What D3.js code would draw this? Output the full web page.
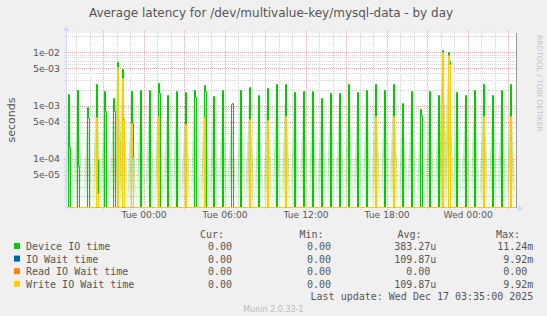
<!DOCTYPE html>
<html>
<head>
<meta charset="utf-8">
<script src="https://cdn.jsdelivr.net/npm/d3@7"></script>
<style>
body { margin: 0; background: #f0f0f0; }
svg text { font-family: "DejaVu Sans", sans-serif; }
svg text.mono { font-family: "DejaVu Sans Mono", monospace; white-space: pre; }
</style>
</head>
<body>
<svg id="chart" width="547" height="316"></svg>
<script>
// time window of the munin "by day" graph
const startTime = "2025-12-15 18:15";
const endTime = "2025-12-17 03:35";

// Device IO time spikes (seconds): time, peak, value of the following step (0 = none)
const deviceTimes = [
  "2025-12-15 18:25", "2025-12-15 19:05", "2025-12-15 19:50", "2025-12-15 20:30", "2025-12-15 21:05",
  "2025-12-15 21:45", "2025-12-15 22:00", "2025-12-15 22:25", "2025-12-15 23:05", "2025-12-15 23:45",
  "2025-12-16 00:25", "2025-12-16 01:05", "2025-12-16 01:45", "2025-12-16 02:25", "2025-12-16 03:05",
  "2025-12-16 03:45", "2025-12-16 04:30", "2025-12-16 05:10", "2025-12-16 05:50", "2025-12-16 06:30",
  "2025-12-16 07:10", "2025-12-16 07:50", "2025-12-16 08:30", "2025-12-16 09:10", "2025-12-16 09:50",
  "2025-12-16 10:30", "2025-12-16 11:10", "2025-12-16 11:50", "2025-12-16 12:30", "2025-12-16 13:10",
  "2025-12-16 13:50", "2025-12-16 14:30", "2025-12-16 15:10", "2025-12-16 15:50", "2025-12-16 16:30",
  "2025-12-16 17:10", "2025-12-16 17:50", "2025-12-16 18:30", "2025-12-16 19:10", "2025-12-16 19:50",
  "2025-12-16 20:30", "2025-12-16 21:10", "2025-12-16 21:50", "2025-12-16 22:05", "2025-12-16 22:35",
  "2025-12-16 23:10", "2025-12-16 23:50", "2025-12-17 00:30", "2025-12-17 01:10", "2025-12-17 01:50",
  "2025-12-17 02:30", "2025-12-17 03:10"
];
const devicePeak = [
  1.65e-3, 1.96e-3, 9.3e-4, 2.54e-3, 1.88e-3,
  1.37e-3, 6.5e-3, 4.9e-3, 1.88e-3, 1.96e-3,
  1.96e-3, 2.6e-3, 1.58e-3, 1.88e-3, 1.82e-3,
  1.96e-3, 2.44e-3, 1.53e-3, 1.96e-3, 1.07e-3,
  1.96e-3, 2.2e-3, 1.58e-3, 2.14e-3, 2.54e-3,
  2.54e-3, 1.82e-3, 1.88e-3, 1.88e-3, 1.37e-3,
  1.7e-3, 1.7e-3, 2.54e-3, 1.82e-3, 1.96e-3,
  2.54e-3, 1.96e-3, 2.54e-3, 1.1e-3, 1.88e-3,
  8.6e-4, 1.88e-3, 1.58e-3, 1.124e-2, 1.0e-2,
  1.82e-3, 1.58e-3, 1.96e-3, 2.54e-3, 1.58e-3,
  1.96e-3, 2.54e-3
];
const deviceStep = [
  1.65e-4, 7.4e-5, 5.8e-4, 9.5e-5, 7.9e-4,
  7.9e-4, 0, 5.5e-4, 4.8e-4, 0,
  0, 1.7e-3, 0, 0, 0,
  1.47e-3, 1.9e-3, 0, 0, 1.1e-3,
  0, 0, 0, 0, 0,
  0, 0, 0, 0, 0,
  0, 0, 0, 0, 0,
  0, 0, 0, 0, 0,
  6.7e-4, 0, 0, 0, 7.0e-3,
  0, 0, 0, 0, 0,
  0, 0
];

// IO Wait time and Write IO Wait time (identical), Read IO Wait time stays 0
const waitTimes = [
  "2025-12-15 20:30", "2025-12-15 22:00", "2025-12-15 22:25", "2025-12-15 23:05", "2025-12-16 01:05",
  "2025-12-16 03:05", "2025-12-16 04:30", "2025-12-16 07:50", "2025-12-16 09:10", "2025-12-16 10:30",
  "2025-12-16 17:10", "2025-12-16 18:30", "2025-12-16 22:05", "2025-12-16 22:35", "2025-12-17 01:10",
  "2025-12-17 03:10"
];
const waitPeak = [
  6.2e-4, 5.4e-3, 3.25e-3, 4.8e-4, 6.4e-4,
  4.5e-4, 6.0e-4, 5.6e-4, 5.4e-4, 6.4e-4,
  6.4e-4, 6.4e-4, 9.92e-3, 9.0e-3, 6.4e-4,
  6.4e-4
];
const waitStep = [
  2.3e-5, 0, 5.5e-4, 1.1e-4, 0,
  0, 0, 0, 0, 0,
  0, 0, 0, 6.0e-3, 0,
  0
];

const seriesNames = ["Device IO time", "IO Wait time", "Read IO Wait time", "Write IO Wait time"];
const seriesColors = ["#00cc00", "#0066b3", "#ff8000", "#ffcc00"];
const curValues = ["0.00", "0.00", "0.00", "0.00"];
const minValues = ["0.00", "0.00", "0.00", "0.00"];
const avgValues = ["383.27u", "109.87u", "0.00", "109.87u"];
const maxValues = ["11.24m", "9.92m", "0.00", "9.92m"];

const yTickValues = [5e-5, 1e-4, 5e-4, 1e-3, 5e-3, 1e-2];
const yTickLabels = ["5e-05", "1e-04", "5e-04", "1e-03", "5e-03", "1e-02"];
const xLabelTimes = ["2025-12-16 00:00", "2025-12-16 06:00", "2025-12-16 12:00", "2025-12-16 18:00", "2025-12-17 00:00"];

const parse = d3.timeParse("%Y-%m-%d %H:%M");
const L = 66, R = 516, T = 33, B = 208;

const svg = d3.select("#chart");
svg.append("rect").attr("width", 547).attr("height", 316).attr("fill", "#f0f0f0");
svg.append("rect").attr("x", L).attr("y", T).attr("width", R - L).attr("height", B - T).attr("fill", "#ffffff");

const x = d3.scaleTime().domain([parse(startTime), parse(endTime)]).range([L, R]);
const y = d3.scaleLog().domain([1.2e-5, 0.023]).range([B, T]).clamp(true);

// horizontal grid, one line per 1..9 x decade
let hLines = [];
for (let d = -5; d <= -2; d++) {
  for (let m = 1; m <= 9; m++) {
    let v = m * Math.pow(10, d);
    if (v >= 1.2e-5 && v <= 0.023) hLines.push({v: v, major: (m == 1 || m == 5)});
  }
}
let grid = svg.append("g");
grid.selectAll(".hg").data(hLines).join("line")
  .attr("x1", L - 2).attr("x2", R + 2)
  .attr("y1", d => Math.round(y(d.v)) + 0.5).attr("y2", d => Math.round(y(d.v)) + 0.5)
  .attr("stroke", d => d.major ? "#f2a8a8" : "#d4d4d4")
  .attr("stroke-dasharray", "1,1");

// vertical grid, every hour, red every 3 hours
let hours = d3.timeHour.every(1).range(parse(startTime), parse(endTime));
grid.selectAll(".vg").data(hours).join("line")
  .attr("x1", d => Math.round(x(d)) + 0.5).attr("x2", d => Math.round(x(d)) + 0.5)
  .attr("y1", T - 2).attr("y2", B + 2)
  .attr("stroke", d => d.getHours() % 3 == 0 ? "#f2a8a8" : "#d4d4d4")
  .attr("stroke-dasharray", "1,1");

// y labels
svg.append("g").selectAll("text").data(yTickValues).join("text")
  .attr("x", 60).attr("y", d => y(d) + 3.5)
  .attr("text-anchor", "end").attr("font-size", "9.4px").attr("fill", "#555")
  .text((d, i) => yTickLabels[i]);

// x labels through the axis generator
let xAxis = d3.axisBottom(x)
  .tickValues(xLabelTimes.map(parse))
  .tickFormat(d3.timeFormat("%a %H:%M"))
  .tickSize(0).tickPadding(0);
let gx = svg.append("g").attr("transform", "translate(0," + (B + 3) + ")").call(xAxis);
gx.select(".domain").remove();
gx.selectAll("text").attr("font-family", "DejaVu Sans").attr("font-size", "9.2px").attr("fill", "#555").attr("dy", "0.71em");

// build step series from the spike lists; k = pixel step after the spike start
function buildSeries(times, peaks, steps) {
  let pts = [{t: parse(startTime), k: 0, v: 0}];
  times.forEach((s, i) => {
    let t = parse(s);
    pts.push({t: t, k: 0, v: peaks[i]});
    if (steps[i] > 0) {
      pts.push({t: t, k: 1, v: steps[i]});
      pts.push({t: t, k: 2, v: 0});
    } else {
      pts.push({t: t, k: 1, v: 0});
    }
  });
  pts.push({t: parse(endTime), k: 0, v: 0});
  return pts;
}
let device = buildSeries(deviceTimes, devicePeak, deviceStep);
let wait = buildSeries(waitTimes, waitPeak, waitStep);
let read = [{t: parse(startTime), k: 0, v: 0}, {t: parse(endTime), k: 0, v: 0}];
let allSeries = [device, wait, read, wait];

// faint faded wedges beside each spike
let defs = svg.append("defs");
seriesColors.forEach((c, i) => {
  let g = defs.append("linearGradient").attr("id", "fade" + i).attr("x1", 0).attr("y1", 0).attr("x2", 0).attr("y2", 1);
  g.append("stop").attr("offset", "0%").attr("stop-color", c).attr("stop-opacity", 0.2);
  g.append("stop").attr("offset", "55%").attr("stop-color", c).attr("stop-opacity", 0.28);
  g.append("stop").attr("offset", "100%").attr("stop-color", c).attr("stop-opacity", 0.0);
});
function wedges(times, peaks, idx) {
  svg.append("g").selectAll("path").data(times).join("path")
    .attr("d", (s, i) => {
      let px = Math.round(x(parse(s))), py = y(peaks[i]);
      return "M" + (px - 4) + "," + B + "L" + px + "," + (py + 10) + "L" + (px + 1) + "," + (py + 10) + "L" + (px + 6) + "," + B + "Z";
    })
    .attr("fill", "url(#fade" + idx + ")");
}
wedges(deviceTimes, devicePeak, 0);
wedges(waitTimes, waitPeak, 3);

// lines snapped to whole pixels so each spike reads as one 2px stroke
let line = d3.line()
  .x(d => Math.round(x(d.t)) + d.k + 0.5)
  .y(d => d.v > 0 ? Math.round(y(d.v)) + 0.5 : B - 0.5)
  .curve(d3.curveStepAfter);

svg.append("g").selectAll("path").data(allSeries).join("path")
  .attr("d", d => line(d))
  .attr("fill", "none")
  .attr("stroke", (d, i) => seriesColors[i])
  .attr("stroke-width", 1);

// axes with arrows
svg.append("line").attr("x1", L + 0.5).attr("x2", L + 0.5).attr("y1", T - 3).attr("y2", B + 2).attr("stroke", "#cfd6f8");
svg.append("line").attr("x1", L - 2).attr("x2", R + 4).attr("y1", B + 0.5).attr("y2", B + 0.5).attr("stroke", "#cfd6f8").lower();
svg.append("path").attr("d", "M" + (L - 2.5) + "," + (T - 2) + "L" + (L + 0.5) + "," + (T - 7) + "L" + (L + 3.5) + "," + (T - 2) + "Z").attr("fill", "#cfd6f8");
svg.append("path").attr("d", "M" + (R + 2) + "," + (B - 2.5) + "L" + (R + 7) + "," + (B + 0.5) + "L" + (R + 2) + "," + (B + 3.5) + "Z").attr("fill", "#cfd6f8");
svg.append("line").attr("x1", R + 0.5).attr("x2", R + 0.5).attr("y1", T).attr("y2", B).attr("stroke", "#999");

// titles
svg.append("text").attr("x", 271).attr("y", 17).attr("text-anchor", "middle")
  .attr("font-size", "12px").attr("fill", "#555")
  .text("Average latency for /dev/multivalue-key/mysql-data - by day");
svg.append("text").attr("transform", "translate(15,120) rotate(-90)").attr("text-anchor", "middle")
  .attr("font-size", "11px").attr("fill", "#555").text("seconds");
svg.append("text").attr("transform", "translate(537,35) rotate(90)").attr("text-anchor", "start")
  .attr("font-size", "7.5px").attr("fill", "#c4c4c4").text("RRDTOOL / TOBI OETIKER");

// legend
let leg = svg.append("g");
let headers = [["Cur:", 224], ["Min:", 323.6], ["Avg:", 421.6], ["Max:", 520]];
leg.selectAll(".hd").data(headers).join("text").attr("class", "mono")
  .attr("x", d => d[1]).attr("y", 237.5).attr("text-anchor", "end")
  .attr("font-size", "10px").attr("fill", "#555").text(d => d[0]);
let colEnds = [238, 337, 436.3, 533.3];
let cols = [curValues, minValues, avgValues, maxValues];
seriesNames.forEach((name, i) => {
  let yy = 250 + i * 12.6;
  leg.append("rect").attr("x", 14).attr("y", yy - 7).attr("width", 6).attr("height", 6).attr("fill", seriesColors[i]);
  leg.append("text").attr("class", "mono").attr("x", 26).attr("y", yy).attr("font-size", "10px").attr("fill", "#555").text(name);
  cols.forEach((c, j) => {
    let s = c[i];
    if (!/[a-z]$/i.test(s)) s = s + " ";
    leg.append("text").attr("class", "mono").attr("x", colEnds[j]).attr("y", yy).attr("text-anchor", "end")
      .attr("font-size", "10px").attr("fill", "#555").text(s);
  });
});
leg.append("text").attr("class", "mono").attr("x", 533.3).attr("y", 300.4).attr("text-anchor", "end")
  .attr("font-size", "10px").attr("fill", "#555").text("Last update: Wed Dec 17 03:35:00 2025");
leg.append("text").attr("x", 273.5).attr("y", 312).attr("text-anchor", "middle")
  .attr("font-size", "8px").attr("fill", "#bbb").text("Munin 2.0.33-1");
</script>
</body>
</html>
